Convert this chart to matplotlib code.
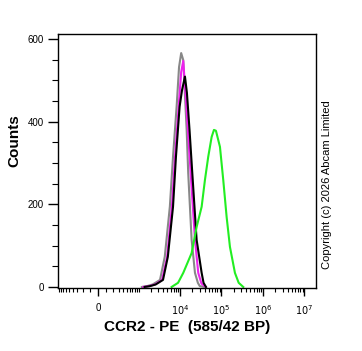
import matplotlib
matplotlib.use("Agg")
import matplotlib.pyplot as plt
import numpy as np

plt.rcParams['font.family'] = ['Liberation Sans', 'DejaVu Sans']

# histogram traces (fluorescence value, counts)
gray_x = [1200, 1600, 2200, 3300, 4300, 5700, 6800, 8300, 9500, 10700, 12000, 14500, 15800, 19100, 23000, 27000, 30000, 40000]
gray_y = [0, 2, 6, 17, 73, 194, 315, 436, 532, 566, 549, 380, 276, 114, 34, 10, 2, 0]

magenta_x = [1300, 1800, 2500, 3700, 4900, 6400, 7600, 9300, 10700, 12000, 14000, 16000, 18100, 23000, 27600, 33000, 42000]
magenta_y = [0, 2, 6, 17, 73, 194, 315, 436, 520, 547, 450, 360, 276, 114, 34, 8, 0]

black_x = [1400, 1900, 2600, 3900, 5100, 6800, 8000, 9800, 11200, 13200, 14700, 17000, 19800, 25200, 33300, 37000, 42300]
black_y = [0, 2, 6, 17, 73, 194, 315, 436, 476, 509, 470, 380, 276, 114, 34, 10, 0]

green_x = [6300, 9000, 12000, 19100, 25200, 33300, 40000, 48000, 58000, 65900, 73600, 92000, 110400, 133300, 160100, 211200, 260000, 335000]
green_y = [0, 10, 34, 82, 145, 194, 259, 315, 363, 380, 378, 339, 259, 169, 97, 34, 10, 0]

xticks = [0, 1e4, 1e5, 1e6, 1e7]
xticklabels = ['0', r'$10^4$', r'$10^5$', r'$10^6$', r'$10^7$']
yticks = [0, 200, 400, 600]

fig = plt.figure(figsize=(3.62, 3.51), dpi=100)
ax = fig.add_axes([0.160, 0.179, 0.713, 0.724])
ax.set_xscale('asinh', linear_width=211)

ax.plot(gray_x, gray_y, color='#888888', lw=1.5)
ax.plot(magenta_x, magenta_y, color='#ee22ee', lw=1.5)
ax.plot(black_x, black_y, color='black', lw=1.5)
ax.plot(green_x, green_y, color='#22ee22', lw=1.5)

ax.set_xlim(-960, 1.9e7)
ax.set_ylim(-3, 612)

ax.set_xticks(xticks)
ax.set_xticklabels(xticklabels, fontsize=7)
minor = list(range(-900, 0, 100)) + list(range(100, 1000, 100))
for dec in [1e3, 1e4, 1e5, 1e6]:
    minor += [k * dec for k in range(1, 10) if not (dec >= 1e4 and k == 1)]
ax.set_xticks(minor, minor=True)

ax.set_yticks(yticks)
ax.set_yticklabels([str(t) for t in yticks], fontsize=7)
ax.set_yticks(range(0, 601, 50), minor=True)

ax.tick_params(axis='x', which='major', length=6, width=1, pad=5, direction='out')
ax.tick_params(axis='x', which='minor', length=3, width=0.8, direction='out')
ax.tick_params(axis='y', which='major', length=7, width=1, pad=3, direction='out')
ax.tick_params(axis='y', which='minor', length=4, width=0.8, direction='out')

for s in ax.spines.values():
    s.set_linewidth(1)

ax.set_xlabel('CCR2 - PE  (585/42 BP)', fontsize=11, fontweight='bold', labelpad=2)
ax.set_ylabel('Counts', fontsize=11, fontweight='bold')
ax.yaxis.set_label_coords(-0.14, 0.58)

fig.text(0.903, 0.473, 'Copyright (c) 2026 Abcam Limited', rotation=90,
         fontsize=8, ha='center', va='center')

fig.savefig('out.png', dpi=100)
